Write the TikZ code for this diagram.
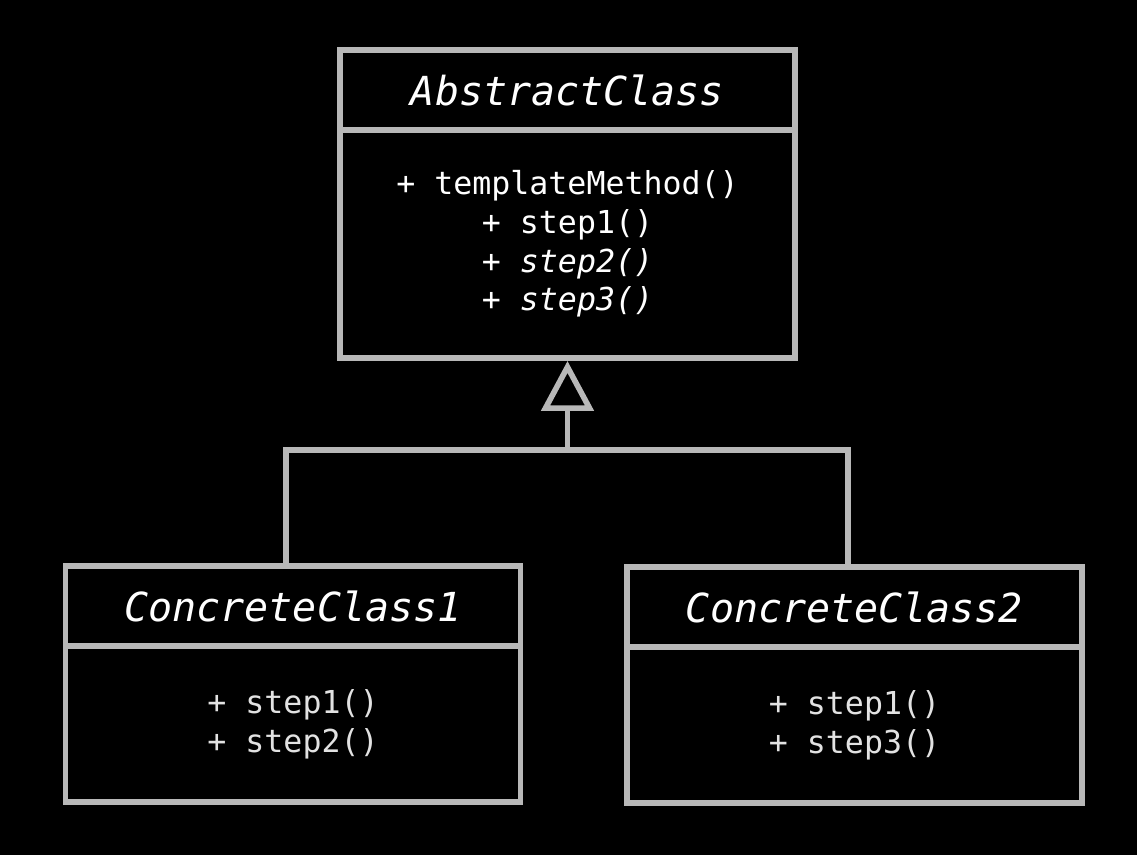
\documentclass[tikz,border=0pt]{standalone}
\usepackage{fontspec}
\usepackage{tikz}
\usetikzlibrary{calc,positioning,arrows.meta}
\newfontfamily\umlfont{DejaVu Sans Mono}
\definecolor{umlgray}{RGB}{184,184,184}
\definecolor{methgray}{RGB}{226,226,226}

\tikzset{
	classname/.style={draw=umlgray, line width=2.8pt, outer sep=0pt, minimum width=227.5pt, minimum height=40pt, inner sep=0pt, text=white, font=\umlfont\itshape\fontsize{20pt}{24pt}\selectfont},
	classbody/.style={draw=umlgray, line width=2.8pt, outer sep=0pt, minimum width=227.5pt, inner sep=0pt, align=center, font=\umlfont\fontsize{15.8pt}{19.4pt}\selectfont},
	inherit/.style={draw=umlgray, line width=2.8pt}
}

\begin{document}
\begin{tikzpicture}[x=0.5pt,y=-0.5pt]
	\fill[black] (0,0) rectangle (1137,855);
	\useasboundingbox (0,0) rectangle (1137,855);
	
	%the abstract class
	\node[classname] (abs) at (567.5,90) {AbstractClass};
	\node[classbody, minimum height=114pt, text=white, below=0pt of abs] (absbody) {+ templateMethod()\\+ step1()\\\textit{+ step2()}\\\textit{+ step3()}};
	
	%the concrete classes
	\node[classname] (cc1) at (293,606) {ConcreteClass1};
	\node[classbody, minimum height=78pt, text=methgray, below=0pt of cc1] (cc1body) {+ step1()\\+ step2()};
	\node[classname] (cc2) at (854.5,607) {ConcreteClass2};
	\node[classbody, minimum height=78pt, text=methgray, below=0pt of cc2] (cc2body) {+ step1()\\+ step3()};
	
	%inheritance
	\coordinate (joint) at (567.5,450);
	\draw[inherit] ([xshift=-3.5pt]cc1.north) |- (joint) -| ([xshift=-3.3pt]cc2.north);
	\draw[inherit, shorten >=1.5pt, -{Triangle[open, length=25pt, width=26pt]}] (joint) -- (absbody.south);
\end{tikzpicture}
\end{document}
